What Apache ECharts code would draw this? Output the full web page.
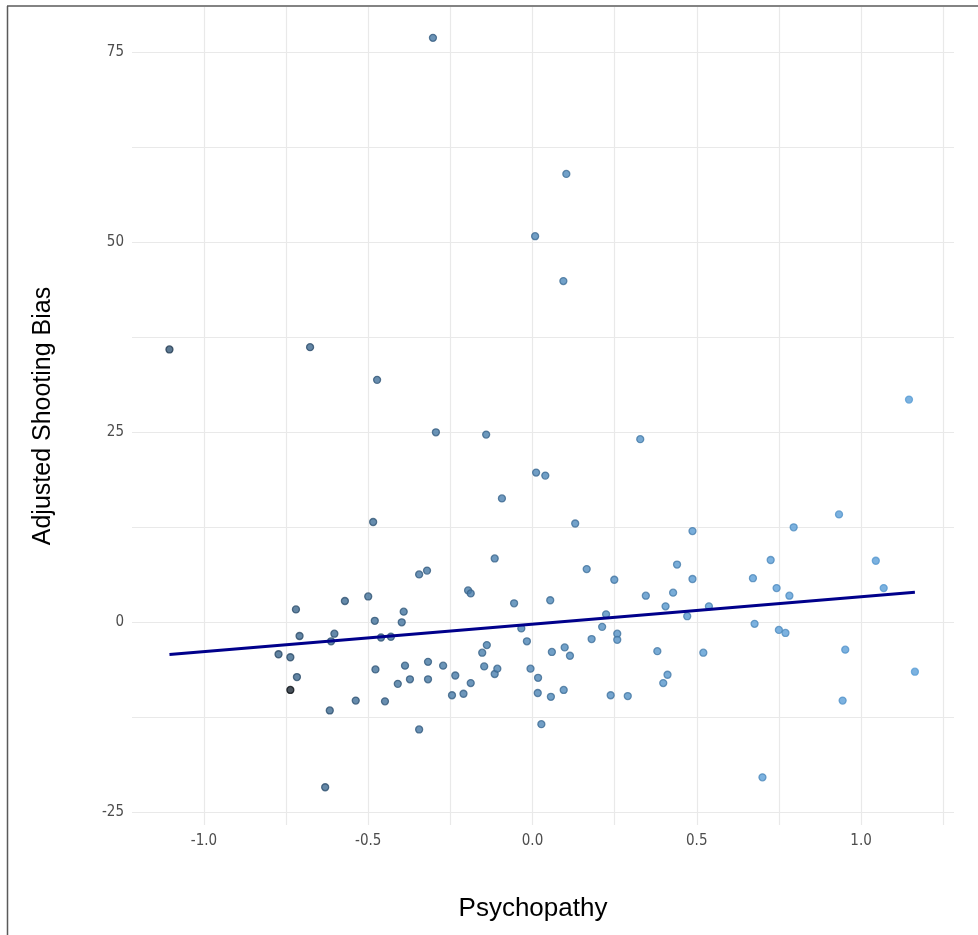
<!DOCTYPE html>
<html>
<head>
    <meta charset="UTF-8">
    <title>Psychopathy and Adjusted Shooting Bias</title>
    <script type="text/javascript" src="https://cdn.jsdelivr.net/npm/echarts@6/dist/echarts.min.js"></script>
</head>
<body style="margin: 0;overflow: hidden;background: #fff;">
<div id="chart" style="width: 978px;height: 935px;"></div>
<script type="text/javascript">
    // values
    var psychopathy = [
        -1.105, -0.677, -0.303, 0.103, 0.008, 0.094, -0.473, -0.294, -0.141, 0.328,
        1.146, 0.011, 0.039, -0.093, 0.13, -0.485, 0.487, 0.933, 0.795, 0.725,
        1.045, -0.115, -0.345, -0.321, -0.196, -0.188, -0.72, -0.571, -0.5, -0.392,
        -0.48, -0.398, -0.709, -0.603, -0.613, -0.461, -0.431, -0.773, -0.737, -0.717,
        -0.737, -0.617, -0.478, -0.538, -0.449, -0.388, -0.41, -0.373, -0.318, -0.318,
        -0.272, -0.345, -0.235, -0.245, -0.21, -0.188, -0.139, -0.153, -0.147, -0.115,
        -0.107, -0.631, 0.165, 0.249, 0.44, 0.487, 0.345, 0.428, 0.405, 0.471,
        0.537, -0.056, 0.054, 0.224, 0.212, -0.034, -0.017, 0.18, 0.258, 0.258,
        0.059, 0.098, 0.114, 0.38, 0.52, -0.006, 0.017, 0.016, 0.056, 0.095,
        0.027, 0.238, 0.29, 0.398, 0.411, 0.671, 0.743, 0.782, 1.069, 0.676,
        0.75, 0.77, 0.952, 1.164, 0.944, 0.7
    ];
    var shootingBias = [
        35.9, 36.2, 76.9, 59.0, 50.8, 44.9, 31.9, 25.0, 24.7, 24.1,
        29.3, 19.7, 19.3, 16.3, 13.0, 13.2, 12.0, 14.2, 12.5, 8.2,
        8.1, 8.4, 6.3, 6.8, 4.2, 3.8, 1.7, 2.8, 3.4, 1.4,
        0.2, 0.0, -1.8, -1.5, -2.5, -2.0, -1.9, -4.2, -4.6, -7.2,
        -8.9, -11.6, -6.2, -10.3, -10.4, -5.7, -8.1, -7.5, -5.2, -7.5,
        -5.7, -14.1, -7.0, -9.6, -9.4, -8.0, -3.0, -4.0, -5.8, -6.8,
        -6.1, -21.7, 7.0, 5.6, 7.6, 5.7, 3.5, 3.9, 2.1, 0.8,
        2.1, 2.5, 2.9, 1.05, -0.6, -0.8, -2.5, -2.2, -1.5, -2.3,
        -3.9, -3.3, -4.4, -3.8, -4.0, -6.1, -7.3, -9.3, -9.8, -8.9,
        -13.4, -9.6, -9.7, -8.0, -6.9, 5.8, 4.5, 3.5, 4.5, -0.2,
        -1.0, -1.4, -3.6, -6.5, -10.3, -20.4
    ];
    // linear fit, end points
    var fitX = [-1.105, 1.164];
    var fitY = [-4.25, 3.95];

    var xGridTicks = [-1, -0.75, -0.5, -0.25, 0, 0.25, 0.5, 0.75, 1, 1.25];
    var xLabelTicks = [-1, -0.5, 0, 0.5, 1];
    var yGridTicks = [-25, -12.5, 0, 12.5, 25, 37.5, 50, 62.5, 75];
    var yLabelTicks = [-25, 0, 25, 50, 75];

    var darkPoint = 40; // the one point drawn almost black

    function hex(c) {
        return [parseInt(c.substr(1, 2), 16), parseInt(c.substr(3, 2), 16), parseInt(c.substr(5, 2), 16)];
    }
    function mix(a, b, t) {
        var p = hex(a), q = hex(b);
        var r = [];
        for (var i = 0; i < 3; i++) {
            r.push(Math.round(p[i] + (q[i] - p[i]) * t));
        }
        return 'rgb(' + r.join(',') + ')';
    }

    var lowColor = '#22384e';
    var highColor = '#5b9fd8';
    var points = [];
    for (var i = 0; i < psychopathy.length; i++) {
        var t = (psychopathy[i] + 1.2) / 2.4;
        var edge = mix(lowColor, highColor, t);
        var fill = mix(lowColor, highColor, Math.min(1, t + 0.25));
        if (i === darkPoint) {
            edge = '#0a0f14';
            fill = '#1b2733';
        }
        points.push({
            value: [psychopathy[i], shootingBias[i]],
            itemStyle: {color: fill, borderColor: edge}
        });
    }

    var tickFont = "'Liberation Sans Narrow', 'DejaVu Sans Condensed', sans-serif";
    var titleFont = "'Liberation Sans', Arial, sans-serif";

    var chart = echarts.init(document.getElementById('chart'), null, {renderer: 'canvas'});
    chart.setOption({
        backgroundColor: '#fff',
        animation: false,
        grid: {left: 132, right: 24, top: 7, bottom: 110, containLabel: false},
        xAxis: {
            type: 'value',
            min: -1.219,
            max: 1.283,
            name: 'Psychopathy',
            nameLocation: 'middle',
            nameGap: 71,
            nameTextStyle: {fontFamily: titleFont, fontSize: 26, color: '#000', padding: [0, 20, 0, 0]},
            axisLine: {show: false},
            axisTick: {show: false, customValues: xGridTicks},
            axisLabel: {
                customValues: xLabelTicks,
                formatter: function (v) { return v.toFixed(1); },
                color: '#4d4d4d',
                fontFamily: tickFont,
                fontSize: 15,
                margin: 9
            },
            splitLine: {show: true, lineStyle: {color: '#e9e9e9', width: 1.2}}
        },
        yAxis: {
            type: 'value',
            min: -26.67,
            max: 80.96,
            name: 'Adjusted Shooting Bias',
            nameLocation: 'middle',
            nameGap: 76,
            nameTextStyle: {fontFamily: titleFont, fontSize: 25, color: '#000'},
            axisLine: {show: false},
            axisTick: {show: false, customValues: yGridTicks},
            axisLabel: {
                customValues: yLabelTicks,
                color: '#4d4d4d',
                fontFamily: tickFont,
                fontSize: 15,
                margin: 8
            },
            splitLine: {show: true, lineStyle: {color: '#e9e9e9', width: 1.2}}
        },
        series: [{
            type: 'scatter',
            data: points,
            symbolSize: 7,
            itemStyle: {borderWidth: 1.3},
            z: 2
        }, {
            type: 'line',
            data: [[fitX[0], fitY[0]], [fitX[1], fitY[1]]],
            symbol: 'none',
            lineStyle: {color: '#00008b', width: 3},
            z: 3
        }],
        graphic: [{
            type: 'line',
            shape: {x1: 7, y1: 6, x2: 978, y2: 6},
            style: {stroke: '#5a5a5a', lineWidth: 1.5},
            z: 10
        }, {
            type: 'line',
            shape: {x1: 7.5, y1: 6, x2: 7.5, y2: 935},
            style: {stroke: '#5a5a5a', lineWidth: 1.5},
            z: 10
        }]
    });
</script>
</body>
</html>
